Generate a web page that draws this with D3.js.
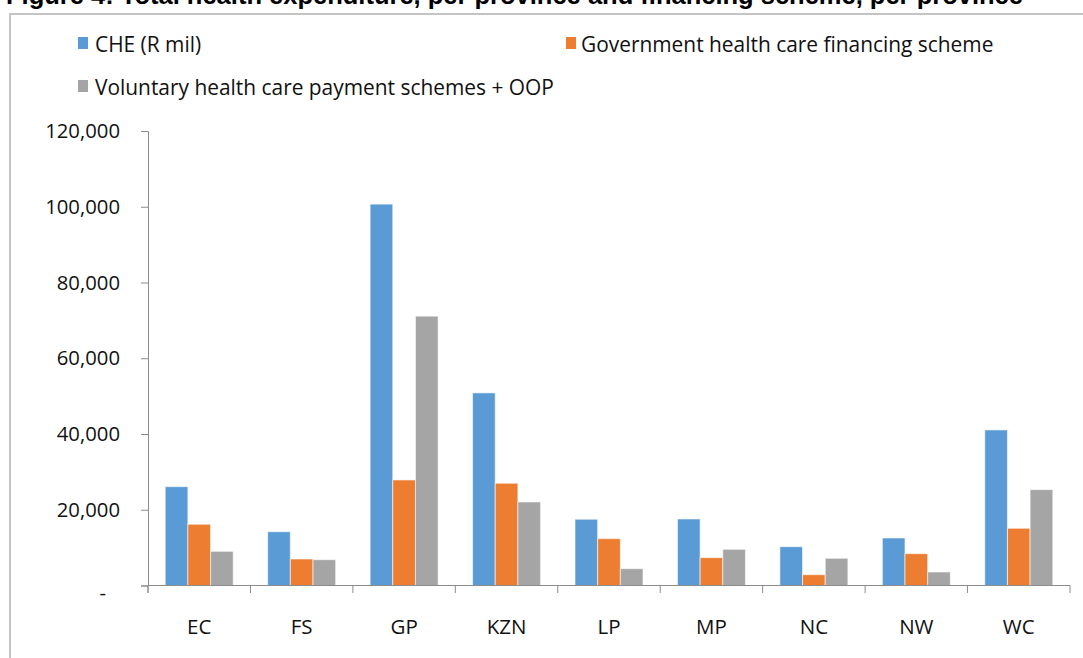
<!DOCTYPE html>
<html>
<head>
<meta charset="utf-8">
<script src="https://cdn.jsdelivr.net/npm/d3@7"></script>
<style>
  html, body { margin: 0; padding: 0; background: #fff; overflow: hidden; }
  svg { display: block; font-family: "Open Sans", "DejaVu Sans", sans-serif; }
</style>
</head>
<body>
<svg id="chart" width="1083" height="658"></svg>
<script>
// Provinces
const provinces = ["EC", "FS", "GP", "KZN", "LP", "MP", "NC", "NW", "WC"];

// Series (R million)
const seriesNames = [
  "CHE (R mil)",
  "Government health care financing scheme",
  "Voluntary health care payment schemes + OOP"
];
const che        = [26100, 14200, 100700, 50860, 17500, 17570, 10250, 12550, 41080];
const government = [16170, 7000, 27870, 27000, 12370, 7350, 2850, 8400, 15110];
const voluntary  = [9030, 6820, 71120, 22060, 4440, 9560, 7190, 3570, 25310];

// Y axis ticks
const yTicks = [0, 20000, 40000, 60000, 80000, 100000, 120000];

const colors = ["#5B9BD5", "#ED7D31", "#A5A5A5"];
const seriesValues = [che, government, voluntary];

const svg = d3.select("#chart");

// Title line running above the chart frame, cut by the top edge of the page
svg.append("text")
  .attr("x", 6).attr("y", 4)
  .attr("font-family", "Liberation Sans, Arial, sans-serif")
  .attr("font-weight", "bold")
  .attr("font-size", 25.5)
  .attr("fill", "#000")
  .text("Figure 4: Total health expenditure, per province and financing scheme, per province");

// Chart frame
svg.append("rect")
  .attr("x", 10).attr("y", 14)
  .attr("width", 1100).attr("height", 700)
  .attr("fill", "#fff")
  .attr("stroke", "#c4c4c4")
  .attr("stroke-width", 2);

const plot = { left: 148, right: 1070, top: 131, bottom: 585.5 };

const x0 = d3.scaleBand()
  .domain(provinces)
  .range([plot.left, plot.right])
  .paddingInner(0.336)
  .paddingOuter(0.168);

const x1 = d3.scaleBand()
  .domain(d3.range(seriesNames.length))
  .range([0, x0.bandwidth()]);

const y = d3.scaleLinear()
  .domain([0, 120000])
  .range([plot.bottom, plot.top]);

const rows = provinces.map((p, i) => ({
  province: p,
  values: seriesValues.map((s, k) => ({ k, v: s[i] }))
}));

// Bars
const groups = svg.append("g").selectAll("g")
  .data(rows)
  .join("g")
  .attr("transform", d => `translate(${x0(d.province)},0)`);

groups.selectAll("rect")
  .data(d => d.values)
  .join("rect")
  .attr("x", d => x1(d.k))
  .attr("y", d => y(d.v))
  .attr("width", x1.bandwidth())
  .attr("height", d => y(0) - y(d.v))
  .attr("fill", d => colors[d.k])
  .attr("stroke", "#ffffff")
  .attr("stroke-opacity", 0.6)
  .attr("stroke-width", 1);

// Y axis
const fmt = d3.format(",");
const yAxis = d3.axisLeft(y)
  .tickValues(yTicks)
  .tickSize(7)
  .tickPadding(21)
  .tickFormat(d => d === 0 ? "-" : fmt(d));

const gy = svg.append("g")
  .attr("transform", `translate(${plot.left},0)`)
  .call(yAxis);
gy.select(".domain").attr("stroke", "#8c8c8c");
gy.selectAll(".tick line").attr("stroke", "#8c8c8c");
gy.selectAll(".tick text")
  .attr("font-size", 20.3)
  .attr("fill", "#111")
  .attr("font-family", "Open Sans, sans-serif");
gy.selectAll(".tick text").filter(d => d === 0)
  .attr("dx", -14).attr("dy", "0.7em");

// Extend y axis line below the baseline
svg.append("line")
  .attr("x1", plot.left).attr("x2", plot.left)
  .attr("y1", plot.bottom).attr("y2", plot.bottom + 7.5)
  .attr("stroke", "#8c8c8c");

// X axis: baseline, category boundary ticks and labels
svg.append("line")
  .attr("x1", plot.left).attr("x2", plot.right)
  .attr("y1", plot.bottom).attr("y2", plot.bottom)
  .attr("stroke", "#8c8c8c");

const step = x0.step();
const boundaries = d3.range(provinces.length + 1).map(i => plot.left + i * step);
svg.append("g").selectAll("line")
  .data(boundaries)
  .join("line")
  .attr("x1", d => d).attr("x2", d => d)
  .attr("y1", plot.bottom).attr("y2", plot.bottom + 7.5)
  .attr("stroke", "#8c8c8c");

svg.append("g").selectAll("text")
  .data(provinces)
  .join("text")
  .attr("x", d => x0(d) + x0.bandwidth() / 2)
  .attr("y", 634)
  .attr("text-anchor", "middle")
  .attr("font-size", 20.5)
  .attr("fill", "#111")
  .text(d => d);

// Legend
const legendItems = [
  { name: seriesNames[0], color: colors[0], x: 78, tx: 17, y: 52 },
  { name: seriesNames[1], color: colors[1], x: 566, tx: 15, y: 52 },
  { name: seriesNames[2], color: colors[2], x: 78, tx: 17, y: 95 }
];
const lg = svg.append("g").selectAll("g")
  .data(legendItems)
  .join("g")
  .attr("transform", d => `translate(${d.x},${d.y})`);
lg.append("rect")
  .attr("x", 0).attr("y", -15)
  .attr("width", 10).attr("height", 12)
  .attr("fill", d => d.color);
lg.append("text")
  .attr("x", d => d.tx).attr("y", 0)
  .attr("font-size", 20.9)
  .attr("fill", "#111")
  .text(d => d.name);
</script>
</body>
</html>
